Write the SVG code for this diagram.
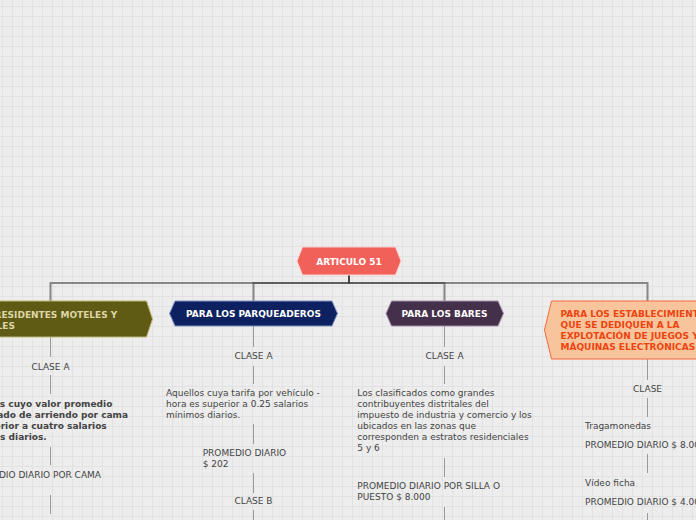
<svg xmlns="http://www.w3.org/2000/svg" width="696" height="520" viewBox="0 0 696 520">
<defs>
<pattern id="grid" width="10" height="10" patternUnits="userSpaceOnUse" x="2" y="6">
<path d="M0 0.5H10M0.5 0V10" stroke="#e2e2e2" stroke-width="1" fill="none"/>
</pattern>
<style>
.t{font-family:"DejaVu Sans",Verdana,sans-serif;font-size:9px;fill:#444}
.b{font-family:"DejaVu Sans",Verdana,sans-serif;font-size:9px;font-weight:bold}
.c{text-anchor:middle}
.main{fill:none;stroke:#444;stroke-opacity:0.6;stroke-width:2}
.sub{fill:none;stroke:#9a9a9a;stroke-width:1}
</style>
</defs>
<rect width="696" height="520" fill="#ededed"/>
<rect width="696" height="520" fill="url(#grid)"/>

<g id="connectors">
<path class="main" d="M349 275V283H50.5V301"/>
<path class="main" d="M349 275V283H253.5V301"/>
<path class="main" d="M349 275V283H444.5V301"/>
<path class="main" d="M349 275V283H647.5V301"/>
<path class="sub" d="M50.5 337V357M50.5 375V394M50.5 447V465M50.5 495V514"/>
<path class="sub" d="M253.5 326V347M253.5 366V384M253.5 424V444M253.5 473V493M253.5 510V520"/>
<path class="sub" d="M444.5 326V347M444.5 366V384M444.5 458V477M444.5 507V520"/>
<path class="sub" d="M647.5 359V380M647.5 398V417M647.5 454V473M647.5 513V520"/>
</g>

<g id="articulo51">
<polygon points="297,261 302.5,247 395.5,247 401,261 395.5,275 302.5,275" fill="#f1615a" stroke="#fbd3cf" stroke-width="1"/>
<text class="b c" x="349" y="264.5" fill="#ffffff">ARTICULO 51</text>
</g>

<g id="hoteles">
<polygon points="-60,319 -54,301 146.5,301 152.5,319 146.5,337 -54,337" fill="#5f5a14" stroke="#bdb677" stroke-width="1"/>
<text class="b" x="-5.5" y="317.5" fill="#ddd6a6">RESIDENTES MOTELES Y</text>
<text class="b" x="-3.5" y="328.5" fill="#ddd6a6">LES</text>
</g>

<g id="parqueaderos">
<polygon points="169.5,313.5 175,301 332,301 337.5,313.5 332,326 175,326" fill="#0d2160" stroke="#8393c2" stroke-width="1"/>
<text class="b c" x="253.5" y="317" fill="#ffffff">PARA LOS PARQUEADEROS</text>
</g>

<g id="bares">
<polygon points="386,313.5 391.5,301 498,301 503.5,313.5 498,326 391.5,326" fill="#45304b" stroke="#a592aa" stroke-width="1"/>
<text class="b c" x="444.5" y="317" fill="#ffffff">PARA LOS BARES</text>
</g>

<g id="juegos">
<polygon points="544.5,330 551.5,301 760,301 767,330 760,359 551.5,359" fill="#f8c49b" stroke="#f26a3c" stroke-width="1"/>
<text class="b" x="560.5" y="317.3" fill="#ec4410">PARA LOS ESTABLECIMIENTOS</text>
<text class="b" x="560.5" y="328" fill="#ec4410">QUE SE DEDIQUEN A LA</text>
<text class="b" x="560.5" y="339" fill="#ec4410">EXPLOTACIÓN DE JUEGOS Y</text>
<text class="b" x="560.5" y="350" fill="#ec4410">MÁQUINAS ELECTRÓNICAS</text>
</g>

<g id="hoteles-clase-a"><text class="t c" x="50.5" y="370">CLASE A</text></g>
<g id="hoteles-desc">
<text class="b" x="112.3" y="407.3" fill="#444" text-anchor="end">s cuyo valor promedio</text>
<text class="b" x="128" y="418.2" fill="#444" text-anchor="end">ado de arriendo por cama</text>
<text class="b" x="106.7" y="429.1" fill="#444" text-anchor="end">erior a cuatro salarios</text>
<text class="b" x="46.7" y="440" fill="#444" text-anchor="end">s diarios.</text>
</g>
<g id="hoteles-promedio"><text class="t" x="101" y="478.3" text-anchor="end">DIO DIARIO POR CAMA</text></g>

<g id="parq-clase-a"><text class="t c" x="253.5" y="359.3">CLASE A</text></g>
<g id="parq-desc">
<text class="t" x="166" y="396">Aquellos cuya tarifa por vehículo -</text>
<text class="t" x="166" y="407.2">hora es superior a 0.25 salarios</text>
<text class="t" x="166" y="418.4">mínimos diarios.</text>
</g>
<g id="parq-promedio">
<text class="t" x="202.7" y="456.3">PROMEDIO DIARIO</text>
<text class="t" x="202.7" y="467">$ 202</text>
</g>
<g id="parq-clase-b"><text class="t c" x="253.5" y="504">CLASE B</text></g>

<g id="bares-clase-a"><text class="t c" x="444.5" y="359.3">CLASE A</text></g>
<g id="bares-desc">
<text class="t" x="357.3" y="396">Los clasificados como grandes</text>
<text class="t" x="357.3" y="407">contribuyentes distritales del</text>
<text class="t" x="357.3" y="418">impuesto de industria y comercio y los</text>
<text class="t" x="357.3" y="429">ubicados en las zonas que</text>
<text class="t" x="357.3" y="440">corresponden a estratos residenciales</text>
<text class="t" x="357.3" y="451">5 y 6</text>
</g>
<g id="bares-promedio">
<text class="t" x="357.3" y="489.3">PROMEDIO DIARIO POR SILLA O</text>
<text class="t" x="357.3" y="500.3">PUESTO $ 8.000</text>
</g>

<g id="juegos-clase"><text class="t c" x="647.5" y="392">CLASE</text></g>
<g id="tragamonedas">
<text class="t" x="585" y="429">Tragamonedas</text>
<text class="t" x="585" y="448">PROMEDIO DIARIO $ 8.000</text>
</g>
<g id="video-ficha">
<text class="t" x="585" y="485.6">Vídeo ficha</text>
<text class="t" x="585" y="504.6">PROMEDIO DIARIO $ 4.000</text>
</g>
</svg>
